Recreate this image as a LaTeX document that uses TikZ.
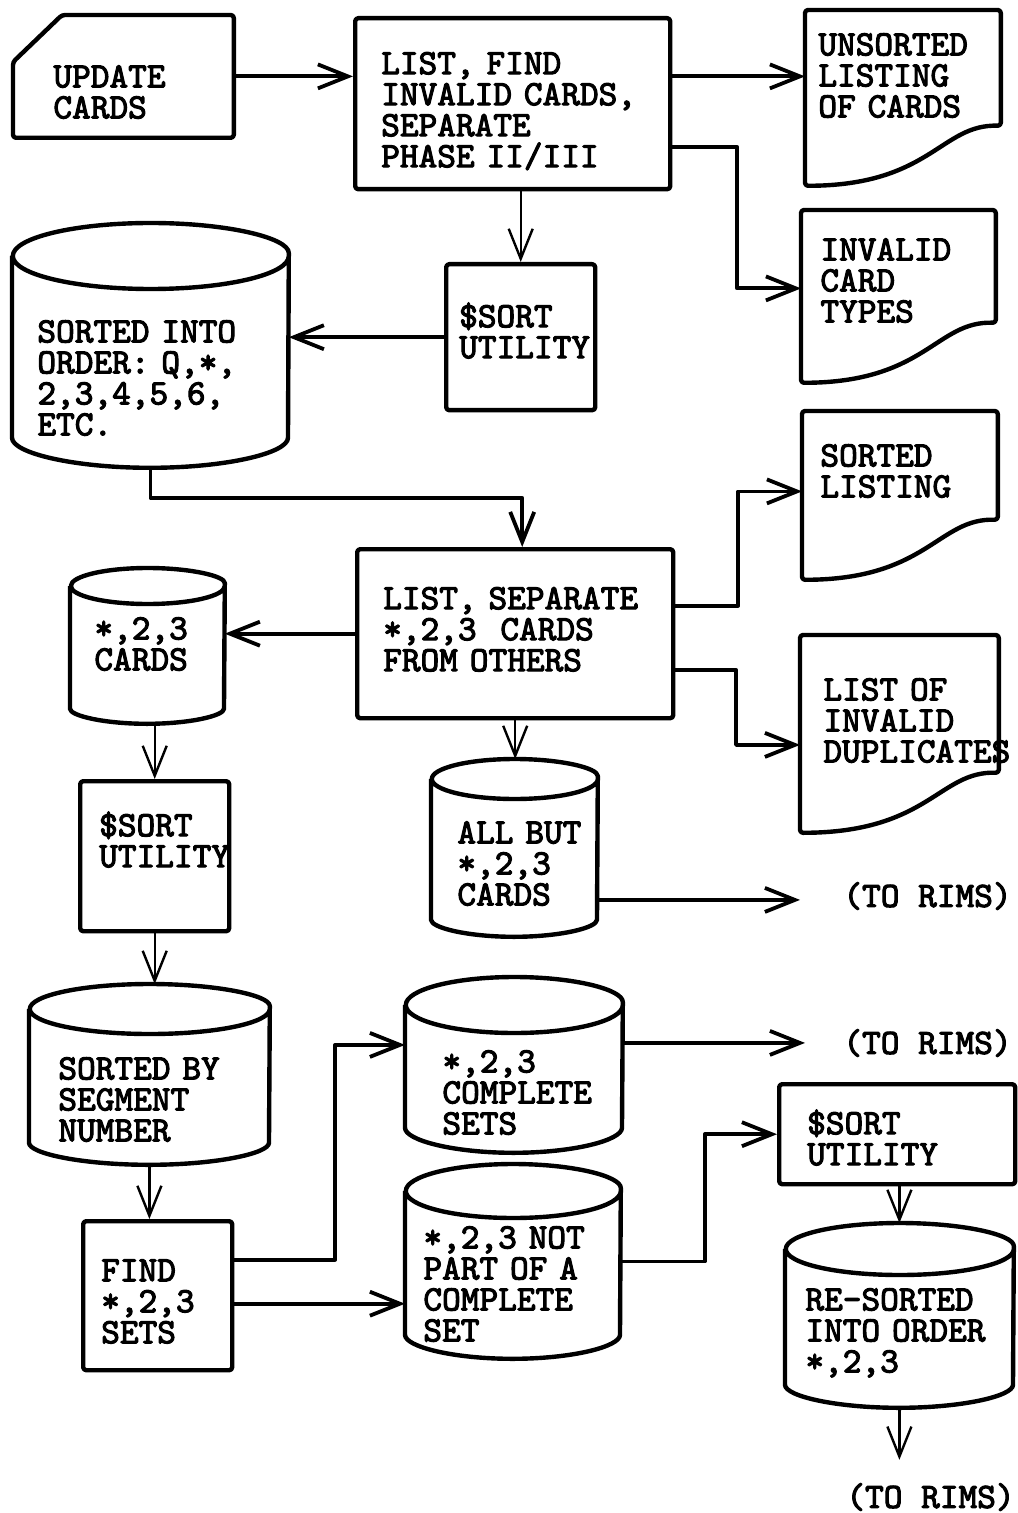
\documentclass[tikz,border=0pt]{standalone}
\usetikzlibrary{arrows.meta}
\font\cardttfont="[lmmono10-regular.otf]:embolden=3" at 17.8pt
\newcommand{\cardfont}{\fontsize{17.8}{15.5}\selectfont\cardttfont}
% disk file: name, half width, cap radius
\newcommand{\drum}[3]{%
  \draw[shape line] ([yshift=-#3]#1.north west) -- ([yshift=#3]#1.south west)
    arc[start angle=180, end angle=360, x radius=#2, y radius=#3]
    -- ([yshift=-#3]#1.north east)
    arc[start angle=0, end angle=360, x radius=#2, y radius=#3];}
% printed listing
\newcommand{\sheet}[1]{%
  \draw[shape line] (#1.north west) -- (#1.north east) -- ([yshift=30pt]#1.south east)
    .. controls ([shift={(-30pt,31pt)}]#1.south east) and ([shift={(-35pt,0pt)}]#1.south east) .. (#1.south west)
    -- cycle;}
\tikzset{
  shape line/.style={line width=2.2pt, rounded corners=1.5pt},
  blk/.style={anchor=north west, inner ysep=0pt, align=left, font=\cardfont},
  box/.style={blk, draw, shape line},
  sz/.style n args={4}{inner xsep=#1, text width=#2, text height=#3, text depth=#4},
  flow/.style={line width=1.9pt, -{Straight Barb[length=15pt, width=12pt]}},
  flowthin/.style={flow, line width=1.2pt},
  rims/.style={anchor=west, inner sep=0pt, font=\cardfont},
}
\begin{document}
\begin{tikzpicture}[x=0.5pt, y=-0.5pt, line join=round]
\fill[white] (0,0) rectangle (1017,1513);
\useasboundingbox (0,0) rectangle (1017,1513);

% top row
\node[blk, sz={20pt}{70pt}{36pt}{25pt}] (upd) at (13,15) {UPDATE\\CARDS};
\draw[shape line] (upd.south west) -- ([yshift=-23.5pt]upd.north west) -- ([xshift=24.5pt]upd.north west)
  -- (upd.north east) -- (upd.south east) -- cycle;
\node[box, sz={13pt}{131.5pt}{28pt}{57.5pt}] (find) at (353,16) {LIST,~FIND\\INVALID~CARDS,\\SEPARATE\\PHASE~II/III};
\node[blk, sz={6.5pt}{84.5pt}{22.5pt}{65pt}] (unsort) at (805,10) {UNSORTED\\LISTING\\OF~CARDS};
\sheet{unsort}
\node[blk, sz={9.5pt}{78pt}{25pt}{61pt}] (types) at (801,210) {INVALID\\CARD\\TYPES};
\sheet{types}
\node[box, sz={6.5pt}{61.5pt}{31.5pt}{41.5pt}] (sortA) at (444,262) {\$SORT\\UTILITY};
\node[blk, sz={12.5pt}{113pt}{59.5pt}{62.5pt}] (cylA) at (12,223) {SORTED~INTO\\ORDER:~Q,*,\\2,3,4,5,6,\\ETC.};
\drum{cylA}{69pt}{16.5pt}

% middle
\node[blk, sz={9pt}{79.5pt}{27.5pt}{56.5pt}] (sorted) at (802,411) {SORTED\\LISTING};
\sheet{sorted}
\node[box, sz={13pt}{132pt}{30pt}{54.5pt}] (listsep) at (355,547) {LIST,~SEPARATE\\{}*,2,3~~CARDS\\FROM~OTHERS};
\node[blk, sz={11.5pt}{76pt}{32.5pt}{66pt}] (dup) at (800,635) {LIST~OF\\INVALID\\DUPLICATES};
\sheet{dup}
\node[blk, sz={12pt}{53pt}{35.5pt}{42pt}] (cylB) at (70,568) {*,2,3\\CARDS};
\drum{cylB}{38.5pt}{9pt}
\node[box, sz={9.5pt}{55.5pt}{27.5pt}{47.5pt}] (sortB) at (78,779) {\$SORT\\UTILITY};
\node[blk, sz={13pt}{57pt}{42pt}{46.5pt}] (cylC) at (431,759) {ALL~BUT\\{}*,2,3\\CARDS};
\drum{cylC}{41.5pt}{10pt}
\node[rims] (rimsA) at (843,896) {(TO~RIMS)};

% bottom
\node[blk, sz={14.5pt}{91pt}{47.5pt}{42.5pt}] (cylD) at (29,984) {SORTED~BY\\SEGMENT\\NUMBER};
\drum{cylD}{60pt}{12.5pt}
\node[box, sz={9pt}{56.5pt}{30pt}{44.5pt}] (findbox) at (81,1219) {FIND\\{}*,2,3\\SETS};
\node[blk, sz={18.5pt}{71.5pt}{47.5pt}{40pt}] (cylE) at (405,977) {*,2,3\\COMPLETE\\SETS};
\drum{cylE}{54.25pt}{14pt}
\node[rims] (rimsB) at (843,1043) {(TO~RIMS)};
\node[blk, sz={9pt}{89.5pt}{42pt}{55pt}] (cylF) at (405,1164) {*,2,3~NOT\\PART~OF~A\\COMPLETE\\SET};
\drum{cylF}{53.75pt}{13.5pt}
\node[box, sz={14pt}{90pt}{25pt}{25pt}] (sortC) at (777,1082) {\$SORT\\UTILITY};
\node[blk, sz={10pt}{94pt}{43.5pt}{48.5pt}] (cylG) at (785,1223) {RE-SORTED\\INTO~ORDER\\{}*,2,3};
\drum{cylG}{57pt}{13pt}
\node[rims] (rimsC) at (846,1497) {(TO~RIMS)};

% connectors
\draw[flow] (upd.east) -- (upd.east -| find.west);
\draw[flow] (find.east |- upd.east) -- (unsort.west |- upd.east);
\draw[flow] ([yshift=-21.5pt]find.east) -| ([shift={(-32pt,4pt)}]types.west) |- ([yshift=4pt]types.west);
\draw[flowthin] (find.south -| sortA.north) -- (sortA.north);
\draw[flow] (sortA.west) -- (sortA.west -| cylA.east);
\draw[flow] (cylA.south) -- ++(0,30) -| ([xshift=3.5pt]listsep.north);
\draw[flow] ([yshift=14pt]listsep.east) -| ([shift={(-32pt,2pt)}]sorted.west) |- ([yshift=2pt]sorted.west);
\draw[flow] ([yshift=-18pt]listsep.east) -| ([shift={(-32pt,-5.5pt)}]dup.west) |- ([yshift=-5.5pt]dup.west);
\draw[flow] (listsep.west) -- (listsep.west -| cylB.east);
\draw[flowthin] (cylB.south -| sortB.north) -- (sortB.north);
\draw[flowthin] (listsep.south) -- (listsep.south |- cylC.north);
\draw[flow, shorten >=21.5pt] ([yshift=-26pt]cylC.east) -- ([yshift=-26pt]cylC.east -| rimsA.west);
\draw[flowthin] (sortB.south) -- (sortB.south |- cylD.north);
\draw[flowthin] (cylD.south) -- (cylD.south |- findbox.north);
\draw[flow] ([yshift=18pt]findbox.east) -| ([shift={(-35pt,10pt)}]cylE.west) |- ([yshift=10pt]cylE.west);
\draw[flow] ([yshift=-4pt]findbox.east) -- ([yshift=-4pt]findbox.east -| cylF.west);
\draw[flow, shorten >=19pt] ([yshift=11pt]cylE.east) -- ([yshift=11pt]cylE.east -| rimsB.west);
\draw[flow] (cylF.east) -| ([xshift=-36pt]sortC.west) |- (sortC.west);
\draw[flowthin] (sortC.south -| cylG.north) -- (cylG.north);
\draw[flowthin, shorten >=11.5pt] (cylG.south) -- (cylG.south |- rimsC.north);
\end{tikzpicture}
\end{document}
